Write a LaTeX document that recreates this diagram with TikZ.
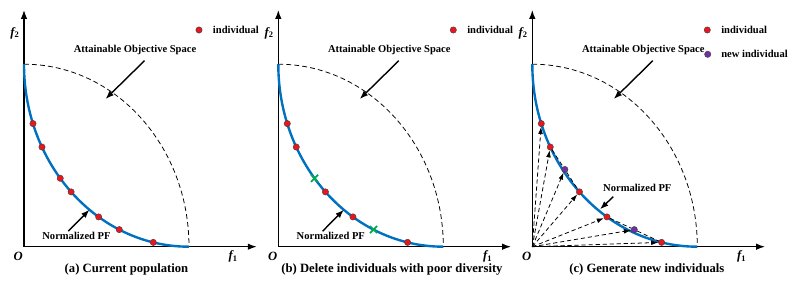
\documentclass[tikz,border=0pt]{standalone}
\usepackage{fontspec}
\setmainfont{Liberation Serif}
\usetikzlibrary{arrows.meta,shapes.misc,calc}

\definecolor{pfblue}{RGB}{0,112,192}
\definecolor{indred}{RGB}{232,22,30}
\definecolor{newpurple}{RGB}{112,48,160}
\definecolor{delgreen}{RGB}{0,170,80}

\begin{document}
\begin{tikzpicture}[x=0.025cm, y=0.025cm,
  every node/.style={font=\bfseries\fontsize{7.5}{9}\selectfont, inner sep=0.5pt},
  axis/.style={{Latex[length=6.5pt,width=4.6pt]}-{Latex[length=6.5pt,width=4.6pt]}, line width=1.1pt},
  bound/.style={dash pattern=on 3.5pt off 2.2pt, line width=0.55pt},
  pfline/.style={pfblue, line width=1.7pt},
  dot/.style={circle, draw=black!75, line width=0.3pt, fill=indred, minimum size=4.5pt, inner sep=0pt},
  newdot/.style={dot, fill=newpurple},
  gone/.style={cross out, draw=delgreen, line width=1.2pt, minimum size=3.8pt, inner sep=0pt},
  ray/.style={-{Latex[length=5pt,width=3.4pt]}, dash pattern=on 3pt off 2pt, line width=0.55pt},
  chord/.style={dash pattern=on 3pt off 2pt, line width=0.55pt},
  note/.style={-{Latex[length=6pt,width=4.4pt]}, line width=1pt},
  capt/.style={font=\bfseries\fontsize{9}{11}\selectfont},
  axlab/.style={font=\bfseries\itshape\fontsize{9}{11}\selectfont}]
\useasboundingbox (0,0) rectangle (797,283);

% parts shared by the three panels
\foreach \p/\sx/\cx/\cap in {a/24/102.5/{(a) Current population},
    b/278.3/113.7/{(b) Delete individuals with poor diversity},
    c/532.3/114.5/{(c) Generate new individuals}} {
  \begin{scope}[shift={(\sx,36.3)}]
    \coordinate (O\p) at (0,0);
    \coordinate (X\p) at (233,0);
    \coordinate (Y\p) at (0,237);
    \draw[bound] (0,182.5) arc (90:0:165 and 182.5);
    \draw[axis] (Y\p) -- (O\p) -- (X\p);
    \draw[pfline] (0,182.5) arc (180:270:165 and 182.5);
    \node[axlab] (o\p) at (-5.7,-9.5) {O};
    \node[axlab] (fx\p) at (209.3,-10) {f\textsubscript{\upshape 1}};
    \node[axlab] (fy\p) at (-9,213.4) {f\textsubscript{\upshape 2}};
    \node[capt] (cap\p) at (\cx,-22.3) {\cap};
    % legend
    \node[dot] (ld\p) at (175,216.7) {};
    \node[anchor=west] (lt\p) at (188,216.7) {individual};
    % attainable space
    \node (sp\p) at (111,196.7) {Attainable Objective Space};
    \coordinate (st\p) at (120.5,186);
    \coordinate (sh\p) at (81.5,147.7);
    \draw[note] (st\p) -- (sh\p);
  \end{scope}
}

% (a) current population
\begin{scope}[shift={(24,36.3)}]
  \foreach \i/\t in {1/19,2/27,3/38.7,4/44.4,5/56.8,6/65,7/77.5}
    \node[dot] (a\i) at ({165*(1-cos(\t))},{182.5*(1-sin(\t))}) {};
  \node (pfa) at (52.5,10.7) {Normalized PF};
  \coordinate (pta) at (44.3,15.5);
  \coordinate (pha) at (65.5,37);
  \draw[note] (pta) -- (pha);
\end{scope}

% (b) deleted individuals
\begin{scope}[shift={(278.3,36.3)}]
  \foreach \i/\t in {1/19,2/27,3/44.4,4/56.8,5/77.5}
    \node[dot] (b\i) at ({165*(1-cos(\t))},{182.5*(1-sin(\t))}) {};
  \foreach \i/\t in {1/38.7,2/65}
    \node[gone] (g\i) at ({165*(1-cos(\t))},{182.5*(1-sin(\t))}) {};
  \node (pfb) at (52.5,10.7) {Normalized PF};
  \coordinate (ptb) at (44.3,15.5);
  \coordinate (phb) at (65.5,37);
  \draw[note] (ptb) -- (phb);
\end{scope}

% (c) new individuals
\begin{scope}[shift={(532.3,36.3)}]
  \node[newdot] (ld2) at (175.4,192.4) {};
  \node[anchor=west] (lt2) at (188,192.4) {new individual};
  \foreach \i/\t in {1/19,2/27,3/44.4,4/56.8,5/77.5}
    \node[dot] (c\i) at ({165*(1-cos(\t))},{182.5*(1-sin(\t))}) {};
  \node[newdot] (p1) at ($(c2)!0.5!(c3)$) {};
  \node[newdot] (p2) at ($(c4)!0.5!(c5)$) {};
  \draw[chord] (c2) -- (p1) -- (c3);
  \draw[chord] (c4) -- (p2) -- (c5);
  \foreach \n in {c1,c2,p1,c3,c4,p2,c5}
    \draw[ray] (Oc) -- (\n);
  \node (pfc) at (105,59) {Normalized PF};
  \coordinate (ptc) at (81,50);
  \coordinate (phc) at (67.7,37.4);
  \draw[note] (ptc) -- (phc);
\end{scope}
\end{tikzpicture}
\end{document}
